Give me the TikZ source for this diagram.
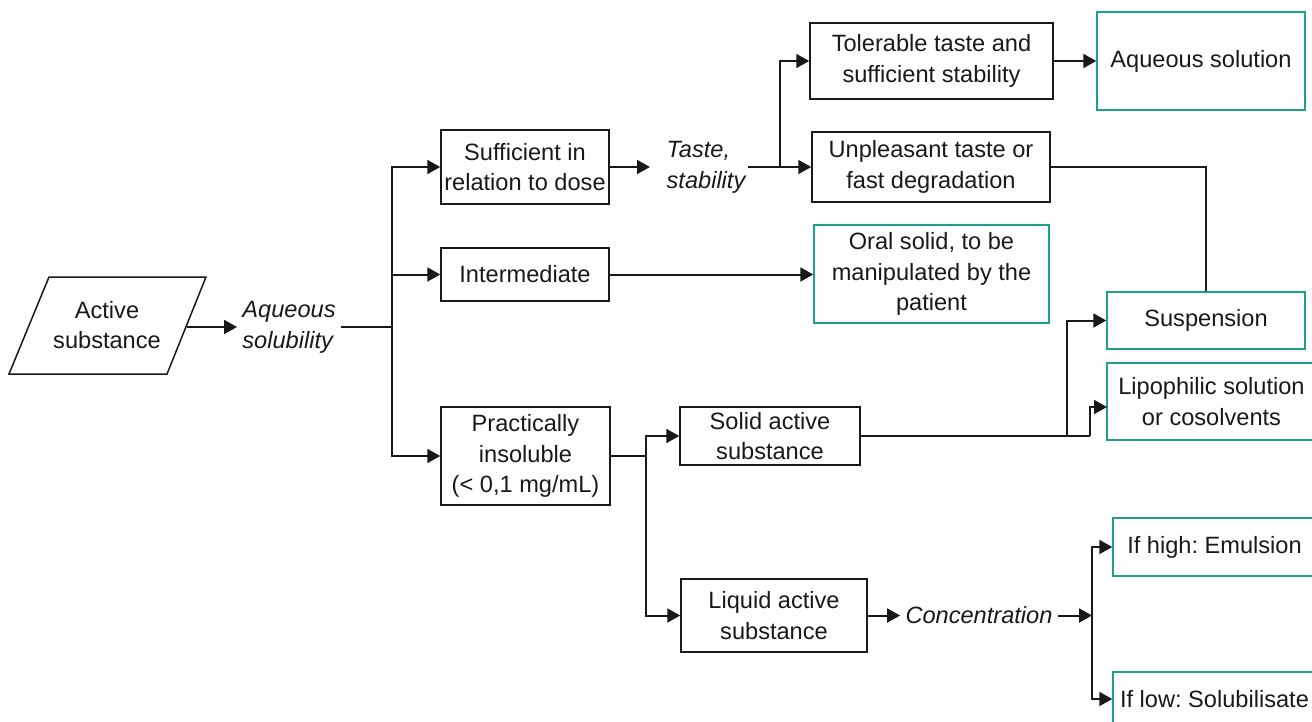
\documentclass[tikz,border=0pt]{standalone}
\usepackage{fontspec}
\setmainfont{Liberation Sans}
\usetikzlibrary{arrows.meta,calc}
\definecolor{tealb}{RGB}{30,160,140}
\definecolor{ink}{RGB}{25,25,25}
\begin{document}
\frenchspacing
\begin{tikzpicture}[x=0.5pt,y=-0.5pt,
  every node/.style={font=\fontsize{11.8}{15.4}\selectfont, text=ink},
  box/.style={draw=ink, line width=0.75pt, align=center, inner sep=0pt},
  gbox/.style={box, draw=tealb},
  lbl/.style={align=left, inner xsep=2.5pt, inner ysep=1pt, font=\fontsize{11.8}{15.4}\selectfont\itshape},
  conn/.style={draw=ink, line width=1pt},
  arr/.style={conn, -{Triangle[length=6.5pt,width=7pt]}}]
\useasboundingbox (0,0) rectangle (1312,722);

% source parallelogram
\draw[draw=ink, line width=0.75pt] (49,277) -- (206,277) -- (167,374) -- (9,374) -- cycle;
\node[align=center] (act) at (107,325) {Active\\substance};
\coordinate (actR) at (187,327);

\node[lbl] (aq) at (289,327) {Aqueous\\solubility};

\node[box, minimum width=84pt, minimum height=37pt] (suf) at (525,167) {Sufficient in\\relation to dose};
\node[box, minimum width=84pt, minimum height=26.5pt] (inter) at (525,274.5) {Intermediate};
\node[box, minimum width=84.5pt, minimum height=49pt] (prac) at (525.5,456) {Practically\\insoluble\\(< 0,1 mg/mL)};

\node[lbl, inner xsep=1pt] (taste) at (706,167) {Taste,\\stability};
\coordinate (tasteIn) at (650,167);
\node[box, minimum width=121.5pt, minimum height=38pt] (tol) at (931.5,61) {Tolerable taste and\\sufficient stability};
\node[box, minimum width=119pt, minimum height=35pt] (unp) at (931,167) {Unpleasant taste or\\fast degradation};
\node[gbox, minimum width=104pt, minimum height=49pt] (aqs) at (1201,61) {Aqueous solution};
\node[gbox, minimum width=117.5pt, minimum height=49pt] (oral) at (931.5,274) {Oral solid, to be\\manipulated by the\\patient};
\node[gbox, minimum width=99pt, minimum height=28.5pt] (susp) at (1206,320.5) {Suspension};
\node[gbox, minimum width=104.5pt, minimum height=38.5pt] (lipo) at (1211.5,401.5) {Lipophilic solution\\or cosolvents};
\coordinate (lipoIn) at (1107,407);

\node[box, minimum width=90pt, minimum height=29pt] (solid) at (770,436) {Solid active\\substance};
\node[box, minimum width=93pt, minimum height=36.5pt] (liq) at (774,615.5) {Liquid active\\substance};
\node[lbl] (conc) at (979,615.5) {Concentration};
\node[gbox, minimum width=101.5pt, minimum height=29pt] (high) at (1214.5,547) {If high: Emulsion};
\node[gbox, minimum width=101.5pt, minimum height=27pt] (low) at (1214.5,699) {If low: Solubilisate};

% junctions
\coordinate (j1) at (392,327);
\coordinate (j2) at (780,167);
\coordinate (j3) at (646,456);
\coordinate (j4) at (1067,436);
\coordinate (j5) at (1090,436);
\coordinate (j6) at (1092,615.5);

% connectors
\draw[arr] (actR) -- (aq.west);
\draw[conn] (aq.east) -- (j1);
\draw[arr] (j1) |- (suf.west);
\draw[arr] (j1) |- (inter.west);
\draw[arr] (j1) |- (prac.west);

\draw[arr] (suf.east) -- (tasteIn);
\draw[conn] (taste.east) -- (j2);
\draw[arr] (j2) |- (tol.west);
\draw[arr] (j2) -- (unp.west);
\draw[arr] (tol.east) -- (aqs.west);
\draw[conn] (unp.east) -| (susp.north);

\draw[arr] (inter.east) -- (inter.east -| oral.west);

\draw[conn] (prac.east) -- (j3);
\draw[arr] (j3) |- (solid.west);
\draw[arr] (j3) |- (liq.west);

\draw[conn] (solid.east) -- (j5);
\draw[arr] (j4) |- (susp.west);
\draw[arr] (j5) |- (lipoIn);

\draw[arr] (liq.east) -- (conc.west);
\draw[arr] (conc.east) -- (j6);
\draw[arr] (j6) |- (high.west);
\draw[arr] (j6) |- (low.west);
\end{tikzpicture}
\end{document}
